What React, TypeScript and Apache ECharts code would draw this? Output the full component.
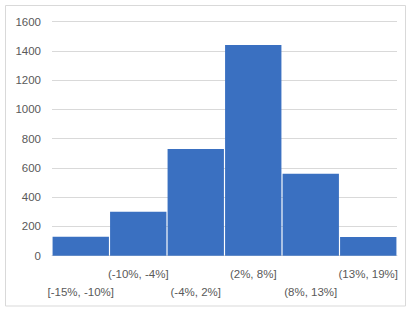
import React, { useEffect, useRef } from "react";
import * as echarts from "echarts";

const categories = ["[-15%, -10%]", "(-10%, -4%]", "(-4%, 2%]", "(2%, 8%]", "(8%, 13%]", "(13%, 19%]"];
const counts = [130, 300, 730, 1440, 560, 128];
const yTicks = { min: 0, max: 1600, interval: 200 };

export default function App() {
  const ref = useRef<HTMLDivElement>(null);
  useEffect(() => {
    if (!ref.current) return;
    const chart = echarts.init(ref.current, null, { renderer: "svg" });
    const font = "'Liberation Sans', Arial, sans-serif";
    chart.setOption({
      animation: false,
      backgroundColor: "#ffffff",
      graphic: [
        {
          type: "rect",
          shape: { x: 5.5, y: 5.5, width: 400, height: 300.5 },
          style: { fill: "none", stroke: "#D9D9D9", lineWidth: 1 },
          silent: true,
        },
      ],
      grid: { left: 52, right: 15, top: 21.7, bottom: 55.3, containLabel: false },
      xAxis: {
        type: "category",
        data: categories,
        axisLine: { show: true, lineStyle: { color: "#D9D9D9", width: 1 } },
        axisTick: { show: false },
        axisLabel: {
          interval: 0,
          margin: 10,
          color: "#595959",
          fontSize: 11.5,
          fontFamily: font,
          lineHeight: 17.5,
          verticalAlign: "top",
          formatter: (v: string, i: number) => (i % 2 === 0 ? "\n" + v : v),
        },
      },
      yAxis: {
        type: "value",
        min: yTicks.min,
        max: yTicks.max,
        interval: yTicks.interval,
        axisLine: { show: false },
        axisTick: { show: false },
        splitLine: { lineStyle: { color: "#D9D9D9", width: 1 } },
        axisLabel: {
          color: "#595959",
          fontSize: 11.5,
          fontFamily: font,
          margin: 11,
          formatter: (v: number) => String(v),
        },
      },
      series: [
        {
          type: "bar",
          data: counts,
          barCategoryGap: "2%",
          itemStyle: { color: "#3A70C1" },
        },
      ],
    });
    return () => chart.dispose();
  }, []);
  return (
    <div
      ref={ref}
      style={{ position: "fixed", left: 0, top: 0, width: 412, height: 311, background: "#fff" }}
    />
  );
}
